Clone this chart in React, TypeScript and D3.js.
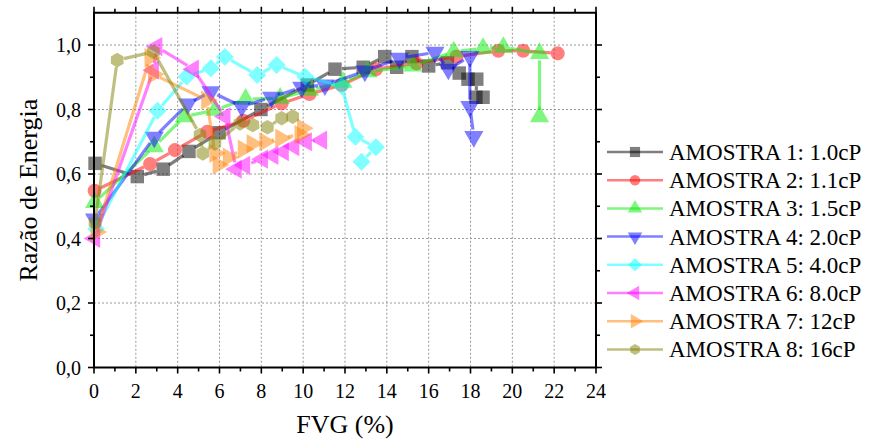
import React, { useEffect, useRef } from "react";
import * as d3 from "d3";

// dados: [FVG (%), razão de energia]
const amostra1 = [[0.05, 0.633], [2.07, 0.592], [3.31, 0.615], [4.54, 0.67], [5.98, 0.728], [7.98, 0.8], [10.2, 0.876], [11.52, 0.925], [12.87, 0.931], [13.9, 0.964], [14.47, 0.931], [15.2, 0.964], [16.0, 0.935], [16.9, 0.945], [17.46, 0.913], [17.88, 0.894], [18.3, 0.894], [18.26, 0.838], [18.6, 0.838]];
const amostra2 = [[0.03, 0.548], [2.68, 0.631], [3.87, 0.674], [5.42, 0.731], [7.14, 0.765], [8.97, 0.819], [10.3, 0.848], [11.84, 0.876], [13.48, 0.925], [15.42, 0.943], [17.33, 0.964], [19.33, 0.982], [20.52, 0.982], [22.17, 0.974]];
const amostra3 = [[0.03, 0.512], [2.88, 0.685], [4.32, 0.778], [5.78, 0.798], [7.25, 0.832], [8.9, 0.835], [10.3, 0.86], [11.9, 0.885], [13.1, 0.917], [15.25, 0.935], [17.2, 0.979], [18.6, 0.99], [19.57, 0.993], [21.3, 0.974], [21.3, 0.778]];
const amostra4 = [[0.03, 0.46], [2.88, 0.714], [4.48, 0.817], [5.59, 0.855], [7.06, 0.809], [8.49, 0.838], [9.93, 0.869], [11.04, 0.876], [12.95, 0.919], [14.6, 0.959], [16.3, 0.977], [16.94, 0.925], [17.97, 0.964], [17.97, 0.809], [18.16, 0.716]];
const amostra5 = [[0.1, 0.43], [3.04, 0.796], [4.43, 0.902], [5.59, 0.928], [6.26, 0.963], [7.8, 0.907], [8.73, 0.938], [10.09, 0.902], [11.84, 0.873], [12.5, 0.715], [13.48, 0.683], [12.79, 0.638]];
const amostra6 = [[0.03, 0.4], [2.84, 0.922], [3.0, 0.995], [4.75, 0.925], [6.26, 0.778], [6.8, 0.615], [7.2, 0.627], [8.05, 0.646], [8.55, 0.658], [9.05, 0.669], [9.55, 0.685], [10.15, 0.7], [10.88, 0.705]];
const amostra7 = [[0.1, 0.42], [2.68, 0.961], [2.84, 0.909], [5.39, 0.829], [5.78, 0.664], [5.94, 0.628], [6.42, 0.652], [7.14, 0.677], [7.56, 0.694], [8.17, 0.7], [8.93, 0.711], [9.85, 0.722], [9.97, 0.742]];
const amostra8 = [[0.05, 0.45], [1.11, 0.953], [2.84, 0.979], [5.07, 0.721], [5.2, 0.664], [5.78, 0.695], [6.98, 0.757], [7.59, 0.752], [8.29, 0.745], [8.97, 0.773], [9.5, 0.778]];

const nomes = ["AMOSTRA 1: 1.0cP", "AMOSTRA 2: 1.1cP", "AMOSTRA 3: 1.5cP", "AMOSTRA 4: 2.0cP", "AMOSTRA 5: 4.0cP", "AMOSTRA 6: 8.0cP", "AMOSTRA 7: 12cP", "AMOSTRA 8: 16cP"];
const cores = ["#000000", "#ff0000", "#00ee00", "#0000ff", "#00ffff", "#ff00ff", "#ff8000", "#808000"];
const simbolos = ["square", "circle", "up", "down", "diamond", "left", "right", "hex"];
const xTicks = d3.range(0, 25, 2);
const yTicks = [0, 0.2, 0.4, 0.6, 0.8, 1.0];

const series = [amostra1, amostra2, amostra3, amostra4, amostra5, amostra6, amostra7, amostra8];

function symbolPath(kind: string, r: number) {
  if (kind === "hex") {
    const pts = d3.range(6).map(i => {
      const a = Math.PI / 6 + (i * Math.PI) / 3;
      return [r * Math.cos(a), r * Math.sin(a)];
    });
    return "M" + pts.map(p => p.join(",")).join("L") + "Z";
  }
  if (kind === "square") return d3.symbol(d3.symbolSquare, r * r * 3.4)()!;
  if (kind === "diamond") return d3.symbol(d3.symbolSquare, r * r * 3.0)()!;
  if (kind === "circle") return d3.symbol(d3.symbolCircle, r * r * 2.9)()!;
  return d3.symbol(d3.symbolTriangle, r * r * 3.0)()!;
}
function symbolRot(kind: string) {
  if (kind === "down") return 180;
  if (kind === "left") return -90;
  if (kind === "right") return 90;
  if (kind === "diamond") return 45;
  return 0;
}

export default function App() {
  const ref = useRef<SVGSVGElement>(null);

  useEffect(() => {
    const svg = d3.select(ref.current);
    svg.selectAll("*").remove();
    const left = 94, right = 596, top = 12.75, bottom = 367.5;
    const x = d3.scaleLinear().domain([0, 24]).range([left, right]);
    const y = d3.scaleLinear().domain([0, 1.1]).range([bottom, top]);
    const font = "'Liberation Serif', 'Times New Roman', serif";

    // grade
    const grid = svg.append("g").attr("stroke", "#9a9a9a").attr("stroke-width", 1).attr("stroke-dasharray", "2,2");
    grid.selectAll(".gx").data(xTicks.slice(1, -1)).join("line")
      .attr("x1", d => x(d)).attr("x2", d => x(d)).attr("y1", top).attr("y2", bottom);
    grid.selectAll(".gy").data(yTicks.slice(1)).join("line")
      .attr("x1", left).attr("x2", right).attr("y1", d => y(d)).attr("y2", d => y(d));

    // séries
    const gap = 7;
    series.forEach((data, si) => {
      const g = svg.append("g");
      const col = cores[si];
      const pts = data.map(d => [x(d[0]), y(d[1])]);
      for (let i = 0; i < pts.length - 1; i++) {
        const [x1, y1] = pts[i], [x2, y2] = pts[i + 1];
        const len = Math.hypot(x2 - x1, y2 - y1);
        if (len <= gap * 2) continue;
        const ux = (x2 - x1) / len, uy = (y2 - y1) / len;
        g.append("line")
          .attr("x1", x1 + ux * gap).attr("y1", y1 + uy * gap)
          .attr("x2", x2 - ux * gap).attr("y2", y2 - uy * gap)
          .attr("stroke", col).attr("stroke-width", 3.2).attr("stroke-opacity", 0.5);
      }
      g.selectAll("path").data(data).join("path")
        .attr("d", symbolPath(simbolos[si], 7.3))
        .attr("transform", d => `translate(${x(d[0])},${y(d[1])}) rotate(${symbolRot(simbolos[si])})`)
        .attr("fill", col).attr("fill-opacity", 0.5);
    });

    // eixos
    const ax = svg.append("g").attr("stroke", "#000").attr("stroke-width", 1.6);
    ax.append("rect").attr("x", left).attr("y", top).attr("width", right - left).attr("height", bottom - top)
      .attr("fill", "none").attr("stroke-width", 2);
    const xMinor = d3.range(0, 25, 1);
    const yMinor = d3.range(0, 11).map(i => i / 10);
    ax.selectAll(".tx").data(xMinor).join("line")
      .attr("x1", d => x(d)).attr("x2", d => x(d)).attr("y1", bottom).attr("y2", d => bottom + (d % 2 === 0 ? 6 : 4));
    ax.selectAll(".tt").data(xMinor).join("line")
      .attr("x1", d => x(d)).attr("x2", d => x(d)).attr("y1", top).attr("y2", d => top - (d % 2 === 0 ? 6 : 4));
    ax.selectAll(".ty").data(yMinor).join("line")
      .attr("y1", d => y(d)).attr("y2", d => y(d)).attr("x1", left).attr("x2", (d, i) => left - (i % 2 === 0 ? 6 : 4));
    ax.selectAll(".tr").data(yMinor).join("line")
      .attr("y1", d => y(d)).attr("y2", d => y(d)).attr("x1", right).attr("x2", (d, i) => right + (i % 2 === 0 ? 6 : 4));

    svg.append("g").selectAll("text").data(xTicks).join("text")
      .attr("x", d => x(d)).attr("y", bottom + 30).attr("text-anchor", "middle")
      .attr("font-family", font).attr("font-size", 20).text(d => String(d));
    svg.append("g").selectAll("text").data(yTicks).join("text")
      .attr("x", left - 13).attr("y", d => y(d) + 7).attr("text-anchor", "end")
      .attr("font-family", font).attr("font-size", 20).text(d => d3.format(".1f")(d).replace(".", ","));

    svg.append("text").attr("x", (left + right) / 2).attr("y", 433).attr("text-anchor", "middle")
      .attr("font-family", font).attr("font-size", 26).text("FVG (%)");
    svg.append("text").attr("transform", `translate(37,${(top + bottom) / 2}) rotate(-90)`).attr("text-anchor", "middle")
      .attr("font-family", font).attr("font-size", 26).text("Razão de Energia");

    // legenda
    const lg = svg.append("g").attr("transform", "translate(607,152)");
    nomes.forEach((n, i) => {
      const row = lg.append("g").attr("transform", `translate(0,${i * 28.2})`);
      row.append("line").attr("x1", 0).attr("x2", 56).attr("stroke", cores[i]).attr("stroke-width", 2.5).attr("stroke-opacity", 0.5);
      row.append("path").attr("d", symbolPath(simbolos[i], 5.5))
        .attr("transform", `translate(28,0) rotate(${symbolRot(simbolos[i])})`)
        .attr("fill", cores[i]).attr("fill-opacity", 0.5);
      row.append("text").attr("x", 62).attr("y", 8).attr("font-family", font).attr("font-size", 23).text(n);
    });
  }, []);

  return <svg ref={ref} width={876} height={441} style={{ position: "absolute", left: 0, top: 0, background: "#fff" }} />;
}
